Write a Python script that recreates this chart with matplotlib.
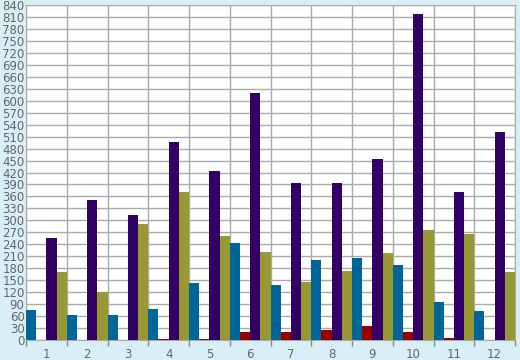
import matplotlib.pyplot as plt
import numpy as np

months = ['1', '2', '3', '4', '5', '6', '7', '8', '9', '10', '11', '12']
blue_vals = [75, 63, 63, 78, 143, 243, 138, 200, 205, 188, 95, 73]
red_vals = [1, 1, 1, 3, 3, 20, 20, 25, 35, 20, 5, 1]
purple_vals = [256, 351, 313, 497, 424, 619, 394, 394, 455, 817, 371, 522]
olive_vals = [170, 120, 291, 371, 261, 221, 145, 173, 218, 276, 266, 170]

series = [blue_vals, red_vals, purple_vals, olive_vals]
colors = ['#006699', '#990000', '#330066', '#999933']

bg = '#d9eff7'
fig = plt.figure(figsize=(5.2, 3.6), dpi=100, facecolor=bg)
ax = fig.add_axes([26 / 520, 1 - 340 / 360, 489 / 520, 335 / 360])
ax.set_facecolor('white')

x = np.arange(len(months))
w = 0.25
for i, (vals, c) in enumerate(zip(series, colors)):
    ax.bar(x - 0.5 + w * i + w / 2, vals, width=w, color=c, zorder=3)

ax.set_xlim(-0.5, len(months) - 0.5)
ax.set_ylim(0, 840)
ax.set_yticks(np.arange(0, 841, 30))
ax.set_xticks(x)
ax.set_xticklabels(months)
ax.set_xticks(np.arange(-0.5, len(months)), minor=True)

ax.grid(True, axis='y', color='#aaaaaa', linewidth=1, zorder=0)
ax.grid(True, axis='x', which='minor', color='#aaaaaa', linewidth=1, zorder=0)
ax.grid(False, axis='x', which='major')

ax.tick_params(axis='y', length=0, pad=1, labelsize=8.5, labelcolor='#666666')
ax.tick_params(axis='x', which='major', length=0, pad=6, labelsize=8.5, labelcolor='#666666')
ax.tick_params(axis='x', which='minor', length=4, color='#888888', width=1)

for s in ax.spines.values():
    s.set_color('#aaaaaa')

fig.savefig('out.png', dpi=100, facecolor=bg)
